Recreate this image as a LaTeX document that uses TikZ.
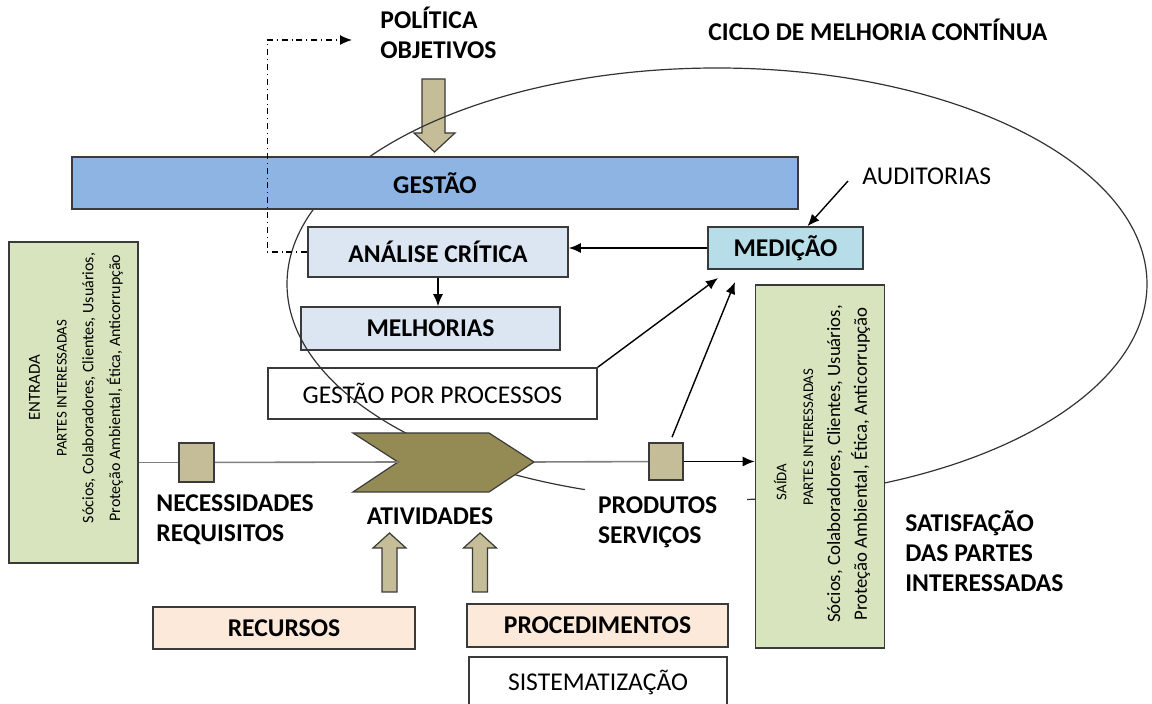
\documentclass[tikz,border=0pt]{standalone}
\usepackage{fontspec}
\setmainfont{Carlito}
\usetikzlibrary{arrows.meta,positioning}

\definecolor{gestaoblue}{HTML}{8EB4E3}
\definecolor{paleblue}{HTML}{DCE6F2}
\definecolor{medcyan}{HTML}{B7DEE8}
\definecolor{partgreen}{HTML}{D7E4BD}
\definecolor{peach}{HTML}{FDE9D9}
\definecolor{khaki}{HTML}{C4BD97}
\definecolor{olive}{HTML}{948A54}
\definecolor{edge}{HTML}{3A3A3A}

\begin{document}
\begin{tikzpicture}[x=0.5pt, y=-0.5pt,
    block/.style={rectangle, draw=edge, line width=0.8pt, inner sep=0pt, font=\fontsize{12.8}{15}\selectfont\bfseries},
    whitebox/.style={block, fill=white, font=\fontsize{12.8}{15}\selectfont},
    sidebox/.style={rectangle, draw=edge, line width=0.8pt, fill=partgreen, minimum width=64.5pt},
    sidetext/.style={rotate=90, align=center, inner sep=0pt, font=\fontsize{7.4}{13.4}\selectfont},
    heading/.style={align=left, inner sep=0pt, font=\fontsize{12.8}{15}\selectfont\bfseries},
    normaltext/.style={inner sep=0pt, font=\fontsize{12.8}{15}\selectfont},
    marker/.style={rectangle, draw=edge, line width=0.8pt, fill=khaki, inner sep=0pt},
    arrow/.style={-{Latex[length=6pt,width=5pt]}, line width=0.7pt},
    flowline/.style={draw=black!50, line width=0.8pt},
    feedback/.style={-{Latex[length=6pt,width=5pt]}, dash dot, line width=0.6pt},
    blockarrow/.style={fill=khaki, draw=edge, line width=0.6pt},
    chevron/.style={fill=olive, draw=edge, line width=0.6pt},
    cycleline/.style={draw=black!80, line width=0.6pt}
]
\useasboundingbox (0,0) rectangle (1152,704);

% Policy input
\node[heading, anchor=west] (politica) at (380,33) {\fontsize{12.8}{14.5}\selectfont POLÍTICA\\OBJETIVOS};
\filldraw[blockarrow] (422,79) -- (445,79) -- (445,133) -- (455,133) -- (434.5,152) -- (414,133) -- (422,133) -- cycle;
\node[heading, anchor=west] (ciclo) at (708,30) {CICLO DE MELHORIA CONTÍNUA};

% Boxes under the cycle
\node[block, fill=paleblue, minimum width=130pt, minimum height=25pt] (analise) at (438,252) {ANÁLISE CRÍTICA};
\node[block, fill=paleblue, minimum width=129.5pt, minimum height=21.5pt] (melhorias) at (430.5,328.5) {MELHORIAS};
\node[whitebox, minimum width=164.5pt, minimum height=25.5pt] (processos) at (432.5,393.5) {GESTÃO POR PROCESSOS};

% Improvement cycle
\draw[cycleline] (717,284) ellipse [x radius=430, y radius=216];

% Management
\node[block, fill=gestaoblue, minimum width=363pt, minimum height=26pt] (gestao) at (435,183) {GESTÃO};
\node[block, fill=medcyan, minimum width=77.5pt, minimum height=21pt] (medicao) at (785.5,248) {MEDIÇÃO};
\node[normaltext, anchor=west] (auditorias) at (862,176) {AUDITORIAS};

% Stakeholders
\node[sidebox, minimum height=160.5pt] (entrada) at (73.5,402.5) {};
\node[sidetext] (entradatxt) at (76,388) {{\fontsize{8.4}{13.4}\selectfont ENTRADA}\\PARTES INTERESSADAS\\{\fontsize{8}{13.4}\selectfont Sócios, Colaboradores, Clientes, Usuários,}\\{\fontsize{8}{13.4}\selectfont Proteção Ambiental, Ética, Anticorrupção}};
\node[sidebox, minimum height=181.5pt] (saida) at (820,466.5) {};
\node[sidetext] (saidatxt) at (822,464) {SAÍDA\hspace*{18pt}\\\hspace*{27pt}PARTES INTERESSADAS\\{\fontsize{9.4}{13.4}\selectfont Sócios, Colaboradores, Clientes, Usuários,}\\{\fontsize{9.4}{13.4}\selectfont Proteção Ambiental, Ética, Anticorrupção}};

% Activities
\filldraw[chevron] (353,433) -- (489,433) -- (534,462) -- (489,492) -- (353,492) -- (398,462) -- cycle;
\coordinate (ativnotch) at (398,462);
\coordinate (ativtip) at (534,462);
\node[heading] (atividades) at (430,516) {ATIVIDADES};
\node[marker, minimum width=17.5pt, minimum height=19.5pt] (necsq) at (196.5,462.5) {};
\node[marker, minimum width=17pt, minimum height=18.5pt] (prodsq) at (666,461.5) {};
\node[heading, anchor=west] (necessidades) at (156,520) {NECESSIDADES\\REQUISITOS};
\node[heading, fill=white, text width=68pt, inner xsep=6.5pt, minimum height=35pt] (produtos) at (666,522) {PRODUTOS\\SERVIÇOS};
\node[heading, anchor=west] (satisfacao) at (905,551) {SATISFAÇÃO\\DAS PARTES\\INTERESSADAS};

% Resources
\foreach \x in {389.5,480}
    \filldraw[blockarrow] ({\x-7.5},592) -- ({\x-7.5},548) -- ({\x-16.5},548) -- (\x,533) -- ({\x+16.5},548) -- ({\x+7.5},548) -- ({\x+7.5},592) -- cycle;
\node[block, fill=peach, minimum width=131pt, minimum height=21pt] (recursos) at (284,628) {RECURSOS};
\node[block, fill=peach, minimum width=130.5pt, minimum height=21.5pt] (procedimentos) at (597.5,625.5) {PROCEDIMENTOS};
\node[whitebox, minimum width=129pt, minimum height=25.5pt] (sistematizacao) at (598,682.5) {SISTEMATIZAÇÃO};

% Arrows
\draw[flowline] (entrada.east |- necsq) -- (necsq);
\draw[flowline] (necsq) -- (ativnotch);
\draw[flowline] (ativtip) -- (prodsq);
\draw[arrow] (prodsq) -- (saida.west |- prodsq);
\draw[arrow] (medicao.west) -- (analise.east |- medicao.west);
\draw[arrow] (analise.south) -- (analise.south |- melhorias.north);
\coordinate (medin1) at (718,278);
\coordinate (medin2) at (735,282);
\draw[arrow] (processos.north east) -- (medin1);
\draw[arrow] ([shift={(3pt,2.5pt)}]prodsq.north) -- (medin2);
\draw[arrow] ([shift={(-7pt,-2.5pt)}]auditorias.west) -- ([xshift=11pt]medicao.north);
\coordinate (loopend) at (352,40);
\draw[feedback] (analise.west) -- ([xshift=-20pt]analise.west) |- (loopend);

\end{tikzpicture}
\end{document}
